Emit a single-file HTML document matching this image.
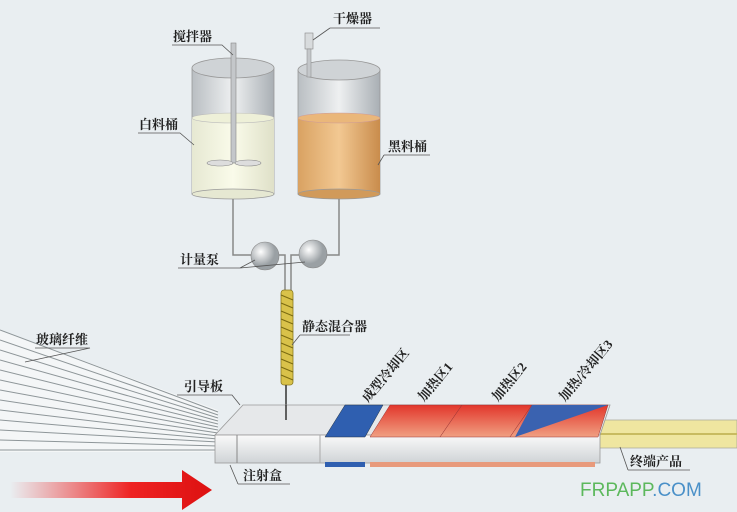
<!DOCTYPE html>
<html><head><meta charset="utf-8"><style>
body{margin:0;background:#e9eef1;}
svg{display:block}
text{font-family:"Liberation Serif","Noto Serif CJK SC",serif;font-size:13px;fill:#222;font-weight:bold}
</style></head><body>
<svg width="737" height="512" viewBox="0 0 737 512" xmlns="http://www.w3.org/2000/svg">
<defs>
<linearGradient id="glass" x1="0" x2="1"><stop offset="0" stop-color="#b9bec2"/><stop offset=".5" stop-color="#eef0f1"/><stop offset="1" stop-color="#a9afb4"/></linearGradient>
<linearGradient id="white" x1="0" x2="1"><stop offset="0" stop-color="#e6e8d2"/><stop offset=".5" stop-color="#fafbea"/><stop offset="1" stop-color="#dfe0c8"/></linearGradient>
<linearGradient id="orange" x1="0" x2="1"><stop offset="0" stop-color="#d9a262"/><stop offset=".5" stop-color="#f2c892"/><stop offset="1" stop-color="#c98c4c"/></linearGradient>
<radialGradient id="ball" cx=".35" cy=".35"><stop offset="0" stop-color="#fff"/><stop offset="1" stop-color="#9aa0a4"/></radialGradient>
<linearGradient id="arrow" x1="0" x2="1"><stop offset="0" stop-color="#e33" stop-opacity="0"/><stop offset=".6" stop-color="#e22"/><stop offset="1" stop-color="#d11"/></linearGradient>
<linearGradient id="red" x1="0" y1="0" x2="0" y2="1"><stop offset="0" stop-color="#e2362b"/><stop offset="1" stop-color="#f0a082"/></linearGradient>
<linearGradient id="front" x1="0" y1="0" x2="0" y2="1"><stop offset="0" stop-color="#fafafa"/><stop offset="1" stop-color="#cfd3d6"/></linearGradient>
</defs>
<!-- left tank -->
<rect x="192" y="68" width="82" height="126" fill="url(#glass)" stroke="#999" stroke-width=".8"/>
<ellipse cx="233" cy="68" rx="41" ry="10" fill="#cfd3d6" stroke="#999" stroke-width=".8"/>
<rect x="192" y="118" width="82" height="76" fill="url(#white)"/>
<ellipse cx="233" cy="118" rx="41" ry="5" fill="#eef0d8" stroke="#bbb" stroke-width=".6"/>
<ellipse cx="233" cy="194" rx="41" ry="5" fill="#e6e8d2" stroke="#999" stroke-width=".8"/>
<rect x="231" y="43" width="5" height="120" fill="#c4c7ca" stroke="#888" stroke-width=".6"/>
<ellipse cx="220" cy="163" rx="13" ry="3" fill="#ddd" stroke="#888" stroke-width=".6"/>
<ellipse cx="248" cy="163" rx="13" ry="3" fill="#ddd" stroke="#888" stroke-width=".6"/>
<!-- right tank -->
<rect x="298" y="70" width="82" height="124" fill="url(#glass)" stroke="#999" stroke-width=".8"/>
<ellipse cx="339" cy="70" rx="41" ry="10" fill="#cfd3d6" stroke="#999" stroke-width=".8"/>
<rect x="298" y="118" width="82" height="76" fill="url(#orange)"/>
<ellipse cx="339" cy="118" rx="41" ry="5" fill="#eab77a" stroke="#c99" stroke-width=".5"/>
<ellipse cx="339" cy="194" rx="41" ry="5" fill="#d19a5a" stroke="#999" stroke-width=".8"/>
<rect x="305" y="33" width="8" height="16" fill="#d8dbdd" stroke="#888" stroke-width=".6"/>
<rect x="307" y="49" width="4" height="28" fill="#c4c7ca" stroke="#888" stroke-width=".5"/>
<!-- pipes -->
<g fill="none" stroke="#888" stroke-width="1.5">
<path d="M233 199 V255 H252"/><path d="M339 199 V255 H327"/>
<path d="M278 255 H285 V295"/><path d="M300 255 H291 V295"/>
</g>
<circle cx="265" cy="256" r="14" fill="url(#ball)" stroke="#888" stroke-width=".6"/>
<circle cx="313" cy="254" r="14" fill="url(#ball)" stroke="#888" stroke-width=".6"/>
<!-- mixer -->
<rect x="281" y="290" width="12" height="95" rx="3" fill="#d9c24a" stroke="#8a7a20" stroke-width=".8"/>
<path d="M281 295 l12 5 M281 303 l12 5 M281 311 l12 5 M281 319 l12 5 M281 327 l12 5 M281 335 l12 5 M281 343 l12 5 M281 351 l12 5 M281 359 l12 5 M281 367 l12 5 M281 375 l12 5" stroke="#7a6a10" stroke-width="1"/>
<line x1="286" y1="385" x2="286" y2="418" stroke="#333" stroke-width="1.5"/>
<!-- fibers -->
<polygon points="0,330 218,410 218,452 0,452" fill="#f4f6f7"/>
<g stroke="#8e9699" stroke-width="1">
<line x1="0" y1="330" x2="218" y2="412"/><line x1="0" y1="340" x2="218" y2="415"/><line x1="0" y1="350" x2="218" y2="418"/><line x1="0" y1="360" x2="218" y2="421"/><line x1="0" y1="370" x2="218" y2="424"/><line x1="0" y1="380" x2="218" y2="427"/><line x1="0" y1="390" x2="218" y2="430"/><line x1="0" y1="400" x2="218" y2="433"/><line x1="0" y1="410" x2="218" y2="436"/><line x1="0" y1="420" x2="218" y2="439"/><line x1="0" y1="430" x2="218" y2="442"/><line x1="0" y1="440" x2="218" y2="446"/><line x1="0" y1="450" x2="218" y2="450"/>
</g>
<!-- product -->
<polygon points="598,420 737,420 737,448 598,448" fill="#efe6a0" stroke="#aa9" stroke-width=".8"/>
<line x1="598" y1="434" x2="737" y2="434" stroke="#c8bb60" stroke-width="2"/>
<!-- box -->
<polygon points="243,405 610,405 600,435 215,435" fill="#e6e8ea" stroke="#999" stroke-width=".8"/>
<rect x="215" y="435" width="385" height="28" fill="url(#front)" stroke="#999" stroke-width=".8"/>
<line x1="237" y1="435" x2="237" y2="463" stroke="#888"/>
<line x1="320" y1="435" x2="320" y2="463" stroke="#aaa"/>
<polygon points="345,405 383,405 365,437 325,437" fill="#2f5fb0" stroke="#234" stroke-width=".5"/>
<polygon points="390,405 462,405 440,437 370,437" fill="url(#red)" stroke="#933" stroke-width=".5"/>
<polygon points="462,405 532,405 510,437 440,437" fill="url(#red)" stroke="#933" stroke-width=".5"/>
<polygon points="532,405 608,405 598,437 510,437" fill="url(#red)" stroke="#933" stroke-width=".5"/>
<polygon points="532,405 608,405 515,437" fill="#3a62b0"/>
<rect x="325" y="462" width="40" height="5" fill="#2f5fb0"/>
<rect x="370" y="462" width="225" height="5" fill="#e89a7c"/>
<line x1="286" y1="405" x2="286" y2="420" stroke="#333" stroke-width="1.5"/>
<!-- arrow -->
<polygon points="10,482 182,482 182,470 212,490 182,510 182,498 10,498" fill="url(#arrow)"/>
<!-- leader lines -->
<g fill="none" stroke="#555" stroke-width=".8">
<path d="M172 45 H222 L233 55"/><path d="M330 28 H380 M330 28 L313 40"/>
<path d="M138 133 H180 L194 145"/><path d="M384 155 H430 M384 155 L378 165"/>
<path d="M178 268 H240 L255 260 M240 268 L305 262"/>
<path d="M300 335 H350 M300 335 L292 345"/>
<path d="M35 348 H90 L25 362"/>
<path d="M177 395 H232 L240 405"/>
<path d="M238 484 H290 M238 484 L230 465"/>
<path d="M628 470 H690 M628 470 L620 447"/>
</g>
<text x="173" y="41">搅拌器</text>
<text x="333" y="23">干燥器</text>
<text x="139" y="129">白料桶</text>
<text x="388" y="151">黑料桶</text>
<text x="180" y="264">计量泵</text>
<text x="302" y="331">静态混合器</text>
<text x="36" y="344">玻璃纤维</text>
<text x="184" y="391">引导板</text>
<text x="243" y="480">注射盒</text>
<text x="630" y="466">终端产品</text>
<text transform="translate(368,403) rotate(-50)">成型冷却区</text>
<text transform="translate(424,402) rotate(-50)">加热区1</text>
<text transform="translate(498,402) rotate(-50)">加热区2</text>
<text transform="translate(565,402) rotate(-50)">加热/冷却区3</text>
<text x="580" y="496" style="font-family:'Liberation Sans',sans-serif;font-size:19px;font-weight:normal;fill:#5cb85c">FRPAPP<tspan style="fill:#4a90c8">.COM</tspan></text>
</svg>
</body></html>
